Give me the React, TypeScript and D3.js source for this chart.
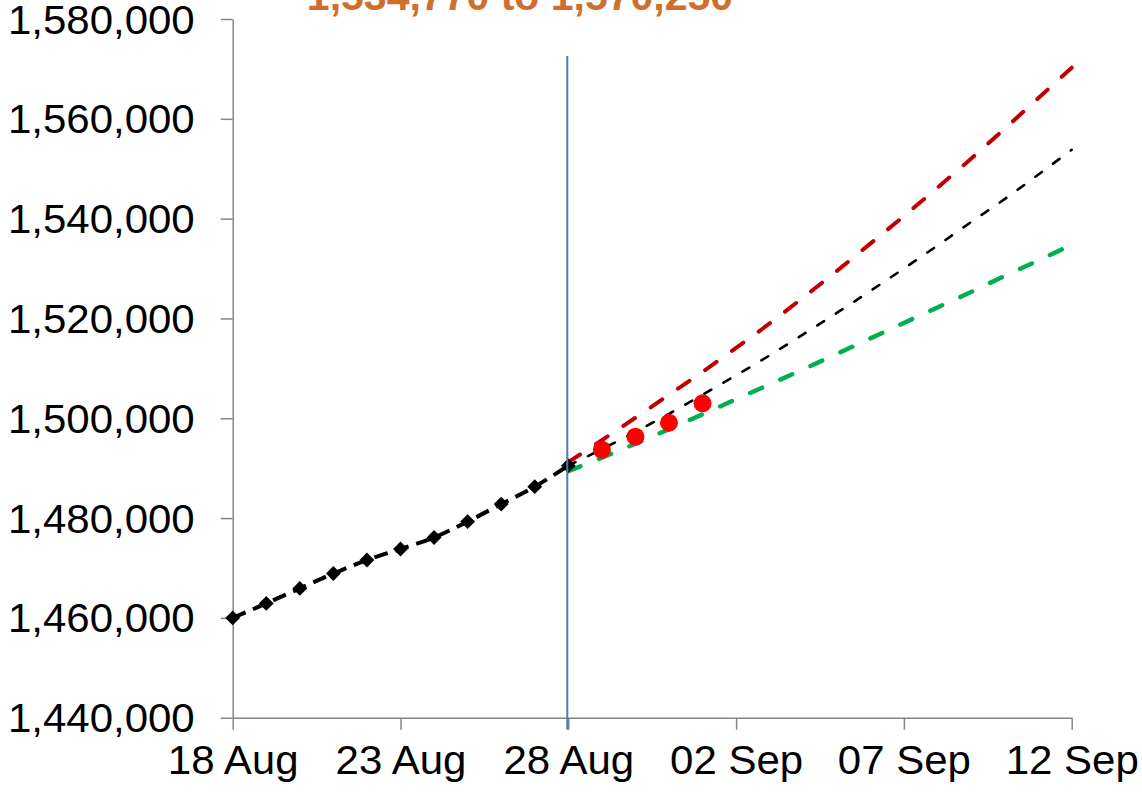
import React, { useEffect, useRef } from 'react';
import * as d3 from 'd3';

// history (black diamonds), 18 Aug .. 28 Aug
const historyDates = [
  '2020-08-18', '2020-08-19', '2020-08-20', '2020-08-21', '2020-08-22', '2020-08-23',
  '2020-08-24', '2020-08-25', '2020-08-26', '2020-08-27', '2020-08-28',
];
const historyValues = [
  1460000, 1462900, 1465900, 1468900, 1471600, 1473800, 1476100, 1479300, 1482800, 1486300, 1490500,
];

// observed after cut-off (red dots)
const actualDates = ['2020-08-29', '2020-08-30', '2020-08-31', '2020-09-01'];
const actualValues = [1493700, 1496300, 1499100, 1503000];

// projections 28 Aug .. 12 Sep
const projDates = [
  '2020-08-28', '2020-08-29', '2020-08-30', '2020-08-31', '2020-09-01', '2020-09-02', '2020-09-03', '2020-09-04',
  '2020-09-05', '2020-09-06', '2020-09-07', '2020-09-08', '2020-09-09', '2020-09-10', '2020-09-11', '2020-09-12',
];
const highValues = [
  1491200, 1495600, 1500100, 1504700, 1509300, 1514100, 1519000, 1524200,
  1529500, 1535000, 1540500, 1546200, 1552000, 1558000, 1564100, 1570250,
];
const midValues = [
  1490500, 1493800, 1497300, 1500900, 1504700, 1508600, 1512600, 1516800,
  1521100, 1525500, 1530000, 1534600, 1539300, 1543900, 1548800, 1553800,
];
const lowValues = [
  1489400, 1492100, 1494900, 1497800, 1500800, 1503800, 1506800, 1509800,
  1512900, 1516000, 1519100, 1522200, 1525300, 1528500, 1531600, 1534770,
];

const xTickDates = ['2020-08-18', '2020-08-23', '2020-08-28', '2020-09-02', '2020-09-07', '2020-09-12'];
const yTicks = [1440000, 1460000, 1480000, 1500000, 1520000, 1540000, 1560000, 1580000];
const cutOffDate = '2020-08-28';
const title = '1,534,770 to 1,570,250';

const parse = d3.timeParse('%Y-%m-%d');

const App: React.FC = () => {
  const svgRef = useRef<SVGSVGElement | null>(null);

  useEffect(() => {
    const svg = d3.select(svgRef.current);
    svg.selectAll('*').remove();

    const font = '"Liberation Sans", Arial, sans-serif';
    const axisColor = '#868686';
    const stretch = 1.05; // labels in the original are a bit wider

    const x = d3.scaleTime()
      .domain([parse(xTickDates[0])!, parse(xTickDates[xTickDates.length - 1])!])
      .range([232.7, 1071.7]);
    const y = d3.scaleLinear().domain([1440000, 1580000]).range([717.7, 19]);

    // y axis
    const yAxis = svg.append('g')
      .attr('transform', `translate(${x.range()[0]},0)`)
      .call(d3.axisLeft(y).tickValues(yTicks).tickSizeInner(12).tickSizeOuter(0).tickPadding(26).tickFormat(d3.format(',')));
    yAxis.select('.domain').attr('stroke', axisColor).attr('stroke-width', 1.5);
    yAxis.selectAll('.tick line').attr('stroke', axisColor).attr('stroke-width', 1.5);
    yAxis.selectAll('.tick text')
      .attr('font-family', font).attr('font-size', 40).attr('fill', '#000').attr('dy', '0.35em')
      .attr('x', -38 / stretch)
      .attr('transform', `scale(${stretch},1)`);

    // x axis
    const xAxis = svg.append('g')
      .attr('transform', `translate(0,${y.range()[0]})`)
      .call(d3.axisBottom(x).tickValues(xTickDates.map((d) => parse(d)!)).tickSizeInner(12).tickSizeOuter(0)
        .tickPadding(16).tickFormat((d) => d3.timeFormat('%d %b')(d as Date)));
    xAxis.select('.domain').attr('stroke', axisColor).attr('stroke-width', 1.5);
    xAxis.selectAll('.tick line').attr('stroke', axisColor).attr('stroke-width', 1.5);
    xAxis.selectAll('.tick text')
      .attr('font-family', font).attr('font-size', 40).attr('fill', '#000').attr('dy', '0.71em')
      .attr('transform', `scale(${stretch},1)`);

    const line = d3.line<[string, number]>()
      .x((d) => x(parse(d[0])!))
      .y((d) => y(d[1]))
      .curve(d3.curveMonotoneX);

    const drawProj = (vals: number[], color: string, width: number, dash: string) => {
      svg.append('path')
        .datum(projDates.map((d, i) => [d, vals[i]] as [string, number]))
        .attr('d', line)
        .attr('fill', 'none')
        .attr('stroke', color)
        .attr('stroke-width', width)
        .attr('stroke-linecap', 'round')
        .attr('stroke-dasharray', dash);
    };
    drawProj(highValues, '#C00000', 4, '14,19');
    drawProj(lowValues, '#00B050', 4.5, '13,20');
    drawProj(midValues, '#000', 2.6, '8,14');

    // history line
    svg.append('path')
      .datum(historyDates.map((d, i) => [d, historyValues[i]] as [string, number]))
      .attr('d', line)
      .attr('fill', 'none')
      .attr('stroke', '#000')
      .attr('stroke-width', 4)
      .attr('stroke-dasharray', '14,8');

    svg.append('g')
      .selectAll('path')
      .data(historyDates.map((d, i) => [d, historyValues[i]] as [string, number]))
      .enter()
      .append('path')
      .attr('d', d3.symbol(d3.symbolSquare, 110)())
      .attr('transform', (d) => `translate(${x(parse(d[0])!)},${y(d[1])}) rotate(45)`)
      .attr('fill', '#000');

    svg.append('g')
      .selectAll('circle')
      .data(actualDates.map((d, i) => [d, actualValues[i]] as [string, number]))
      .enter()
      .append('circle')
      .attr('cx', (d) => x(parse(d[0])!))
      .attr('cy', (d) => y(d[1]))
      .attr('r', 9)
      .attr('fill', '#FF0000');

    // cut-off marker
    const cx = x(parse(cutOffDate)!) - 1;
    svg.append('line')
      .attr('x1', cx).attr('x2', cx)
      .attr('y1', 56).attr('y2', y.range()[0] + 12)
      .attr('stroke', '#4A7EBB').attr('stroke-width', 2);

    svg.append('text')
      .attr('x', 520)
      .attr('y', 10)
      .attr('text-anchor', 'middle')
      .attr('font-family', font)
      .attr('font-weight', 'bold')
      .attr('font-size', 41)
      .attr('fill', '#CF6E2D')
      .text(title);
  }, []);

  return (
    <svg
      ref={svgRef}
      width={1142}
      height={793}
      style={{ position: 'absolute', left: 0, top: 0, background: '#fff' }}
    ></svg>
  );
};

export default App;
